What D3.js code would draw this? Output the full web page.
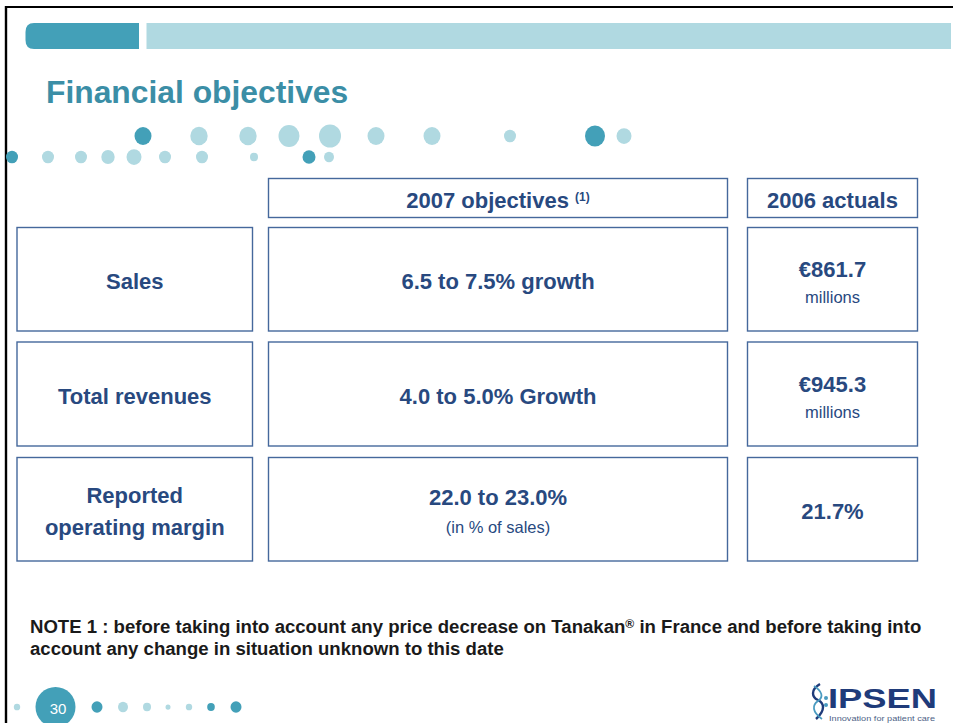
<!DOCTYPE html>
<html>
<head>
<meta charset="utf-8">
<script src="https://cdn.jsdelivr.net/npm/d3@7"></script>
<style>
  html, body { margin: 0; padding: 0; background: #fff; }
  svg { display: block; font-family: "Liberation Sans", Arial, Helvetica, sans-serif; }
</style>
</head>
<body>
<svg id="slide" width="953" height="723"></svg>
<script>
// ---------- data ----------
const title = "Financial objectives";
const headers = ["2007 objectives", "2006 actuals"];
const headerNotes = ["(1)", ""];
const rowLabels = [["Sales"], ["Total revenues"], ["Reported", "operating margin"]];
const objectives = ["6.5 to 7.5% growth", "4.0 to 5.0% Growth", "22.0 to 23.0%"];
const objectiveNotes = ["", "", "(in % of sales)"];
const actualPrefix = ["€", "€", ""];
const actualValues = ["861.7", "945.3", "21.7%"];
const actualUnits = ["millions", "millions", ""];
const noteLines = [
  ["NOTE 1 : before taking into account any price decrease on Tanakan", "®", " in France and before taking into"],
  ["account any change in situation unknown to this date"]
];
const pageNumber = "30";
const logoName = "IPSEN";
const logoTagline = "Innovation for patient care";

// ---------- styles / layout ----------
const C = {
  dark: "#43a0b8", light: "#b0d9e1", title: "#3b8ea6",
  box: "#45689c", text: "#28497f", note: "#1a1a1a", logo: "#1f3b7a"
};
const svg = d3.select("#slide");

// slide frame
svg.append("line").attr("x1", 6).attr("x2", 953).attr("y1", 7).attr("y2", 7).attr("stroke", "#000").attr("stroke-width", 2);
svg.append("line").attr("x1", 6).attr("x2", 6).attr("y1", 6).attr("y2", 723).attr("stroke", "#000").attr("stroke-width", 2.4);

// header bars
svg.append("path")
  .attr("d", "M139,23 L34,23 Q25.5,23 25.5,32 L25.5,40 Q25.5,49 34,49 L139,49 Z")
  .attr("fill", C.dark);
svg.append("rect").attr("x", 146.5).attr("y", 23).attr("width", 804.5).attr("height", 26).attr("fill", C.light);

// title
svg.append("text").attr("x", 46).attr("y", 103)
  .attr("font-size", 31.8).attr("font-weight", "bold").attr("fill", C.title).text(title);

// decorative dots
const decoDots = [
  [143,136,8.5,1],[199,136,8.7,0],[248,136,8.7,0],[289,136,10.5,0],[330,136,11,0],
  [376,136,8.5,0],[432,136,8.5,0],[510,136,6,0],[595,136,10,1],[624,136,7.5,0],
  [12,157,6,1],[48,157,6,0],[81,157,6,0],[108,157,6.7,0],[134,157,7.5,0],
  [165,157,6,0],[202,157,6,0],[254,157,4,0],[309,157,6.5,1],[329,157,5,0],
  [17,707,3.2,0],[97,707,5.5,1],[123,707,5,0],[147,707,4,0],[168,707,2.5,0],
  [189,707,3.2,0],[211,707,3.8,1],[236,707,5.5,1]
];
svg.append("g").selectAll("ellipse").data(decoDots).join("ellipse")
  .attr("cx", d => d[0]).attr("cy", d => d[1])
  .attr("rx", d => d[2]).attr("ry", d => d[2] * 1.05)
  .attr("fill", d => d[3] ? C.dark : C.light);

// page number
svg.append("circle").attr("cx", 55.5).attr("cy", 707).attr("r", 20).attr("fill", C.dark);
svg.append("text").attr("x", 58).attr("y", 714).attr("text-anchor", "middle")
  .attr("font-size", 15).attr("fill", "#fff").text(pageNumber);

// ---------- table ----------
const cols = d3.scaleOrdinal().domain([0, 1, 2]).range([[17, 252.5], [268.5, 727.5], [747.5, 917.5]]);
const rows = d3.scaleOrdinal().domain(["h", 0, 1, 2]).range([[178.5, 217.5], [227.5, 331], [342, 446], [457.5, 561]]);

const cells = [];
headers.forEach((h, i) => cells.push({ c: i + 1, r: "h", kind: "header", i }));
rowLabels.forEach((l, i) => {
  cells.push({ c: 0, r: i, kind: "label", i });
  cells.push({ c: 1, r: i, kind: "obj", i });
  cells.push({ c: 2, r: i, kind: "act", i });
});

const g = svg.append("g");
const cg = g.selectAll("g.cell").data(cells).join("g").attr("class", "cell");
cg.append("rect")
  .attr("x", d => cols(d.c)[0]).attr("y", d => rows(d.r)[0])
  .attr("width", d => cols(d.c)[1] - cols(d.c)[0])
  .attr("height", d => rows(d.r)[1] - rows(d.r)[0])
  .attr("fill", "none").attr("stroke", C.box).attr("stroke-width", 1.4);

cg.each(function (d) {
  const sel = d3.select(this);
  const cx = (cols(d.c)[0] + cols(d.c)[1]) / 2;
  const cy = (rows(d.r)[0] + rows(d.r)[1]) / 2;
  const t = sel.append("text").attr("text-anchor", "middle").attr("fill", C.text)
    .attr("x", cx).attr("font-weight", "bold").attr("font-size", 22);
  if (d.kind === "header") {
    t.attr("y", cy + 9.5).text(headers[d.i] + (headerNotes[d.i] ? " " : ""));
    if (headerNotes[d.i]) t.append("tspan").attr("font-size", 12).attr("dy", -7).text(headerNotes[d.i]);
  } else if (d.kind === "label") {
    const lines = rowLabels[d.i];
    const lh = 32;
    lines.forEach((ln, k) => {
      t.append("tspan").attr("x", cx)
        .attr("y", cy + 9.7 - (lines.length - 1) * lh / 2 + k * lh).text(ln);
    });
  } else if (d.kind === "obj") {
    const hasNote = !!objectiveNotes[d.i];
    t.attr("y", hasNote ? cy - 4 : cy + 9.5).text(objectives[d.i]);
    if (hasNote) {
      sel.append("text").attr("text-anchor", "middle").attr("fill", C.text)
        .attr("x", cx).attr("y", cy + 24).attr("font-size", 16.5).text(objectiveNotes[d.i]);
    }
  } else {
    const hasUnit = !!actualUnits[d.i];
    t.attr("y", hasUnit ? cy - 2.5 : cy + 10).text(actualPrefix[d.i] + actualValues[d.i]);
    if (hasUnit) {
      sel.append("text").attr("text-anchor", "middle").attr("fill", C.text)
        .attr("x", cx).attr("y", cy + 23.5).attr("font-size", 16.5).text(actualUnits[d.i]);
    }
  }
});

// ---------- note ----------
const noteG = svg.append("g").attr("fill", C.note).attr("font-weight", "bold");
const n1 = noteG.append("text").attr("x", 30).attr("y", 633).attr("font-size", 15);
noteLines[0].forEach((s, k) => {
  const ts = n1.append("tspan").text(s);
  if (k === 1) ts.attr("font-size", 10).attr("dy", -5);
  if (k === 2) ts.attr("dy", 5);
});
const w1 = n1.node().getComputedTextLength();
const fs = 15 * 892 / w1;
n1.attr("font-size", fs);
n1.selectAll("tspan").filter((d, k) => k === 1).attr("font-size", fs * 0.65);
noteG.append("text").attr("x", 30).attr("y", 655).attr("font-size", fs).text(noteLines[1][0]);

// ---------- logo ----------
const logo = svg.append("g");
logo.append("path").attr("d", "M820,684 C810,690 812,697 818,700 C824,703 826,710 816,719")
  .attr("fill", "none").attr("stroke", C.logo).attr("stroke-width", 2.4);
logo.append("path").attr("d", "M814,686 C822,691 824,697 818,701 C812,705 812,712 822,719")
  .attr("fill", "none").attr("stroke", "#4a9bc0").attr("stroke-width", 1.8);
logo.append("circle").attr("cx", 826).attr("cy", 698).attr("r", 2).attr("fill", "#4a9bc0");
logo.append("circle").attr("cx", 826).attr("cy", 705).attr("r", 2).attr("fill", "#4a9bc0");
logo.append("text").attr("x", 828).attr("y", 707.5).attr("font-size", 27).attr("font-weight", "900")
  .attr("fill", C.logo).attr("textLength", 109).attr("lengthAdjust", "spacingAndGlyphs").text(logoName);
logo.append("text").attr("x", 829).attr("y", 720.5).attr("font-size", 7)
  .attr("fill", "#4d5f86").attr("textLength", 106).attr("lengthAdjust", "spacingAndGlyphs").text(logoTagline);
</script>
</body>
</html>
